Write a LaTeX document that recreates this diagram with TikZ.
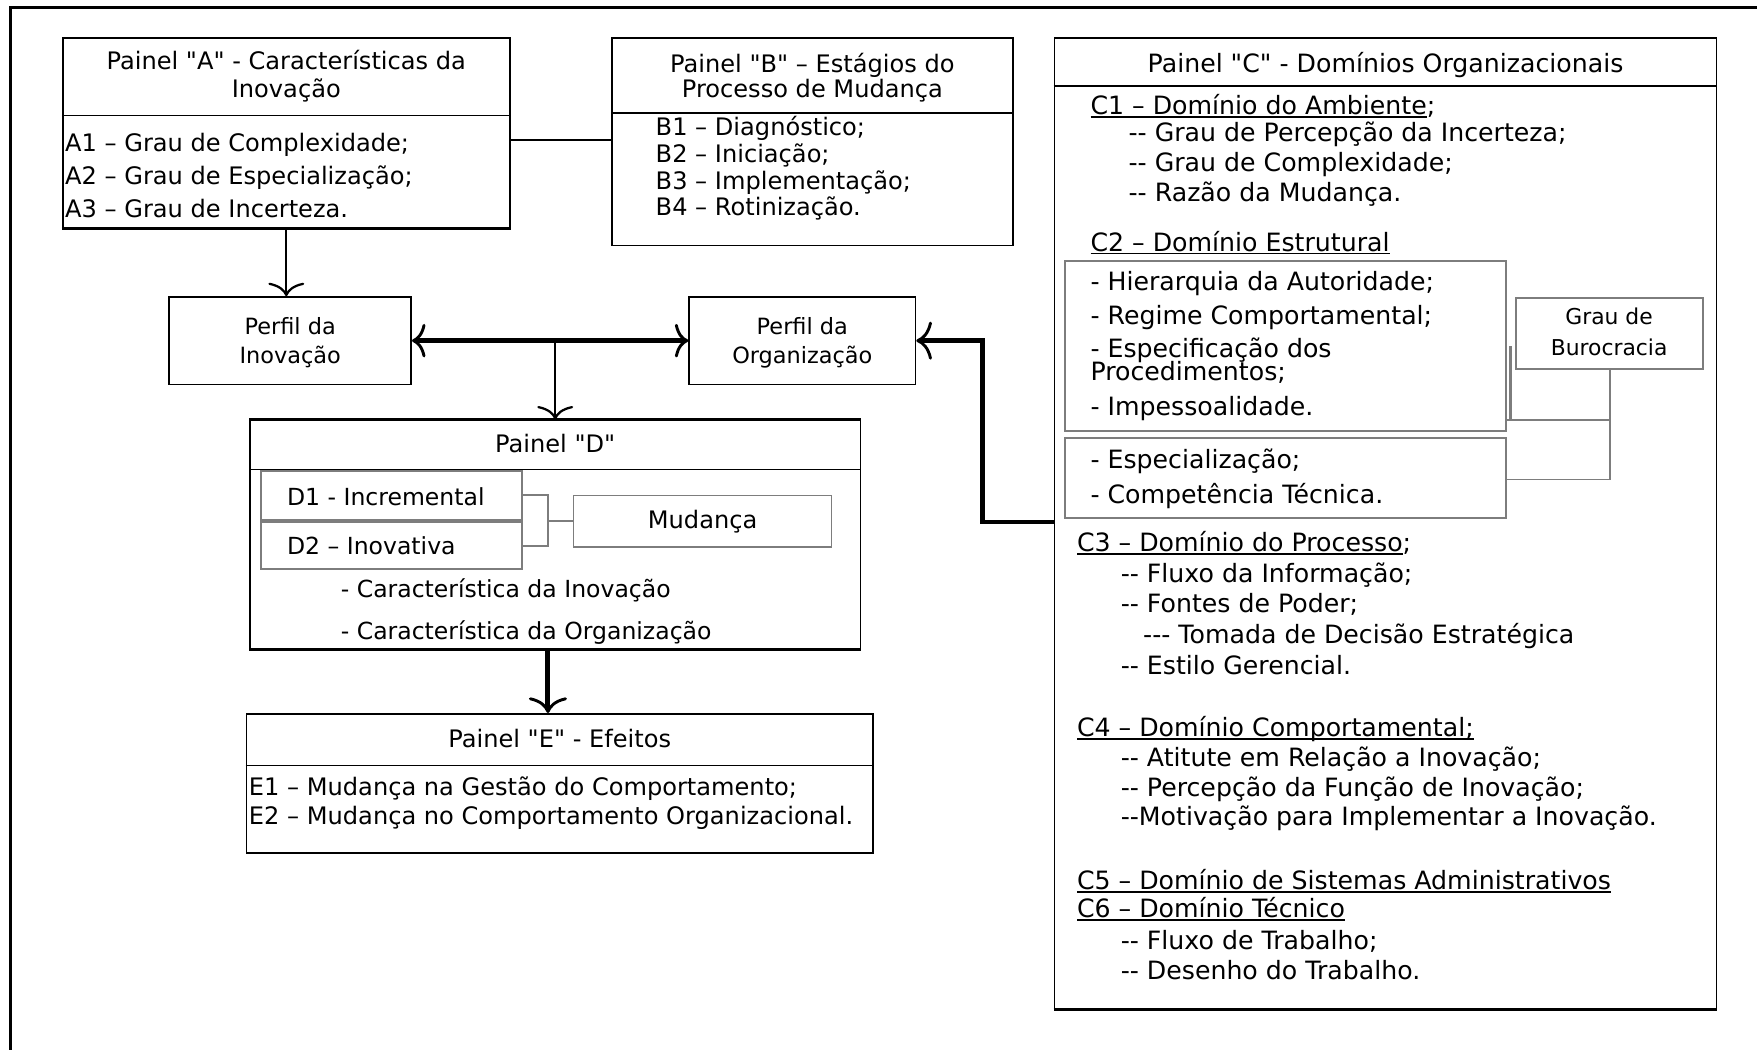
\documentclass[tikz,border=0pt]{standalone}
\usepackage{fontspec}
\newfontfamily\dv{DejaVu Sans}
\usetikzlibrary{arrows.meta,fit}
\definecolor{midgray}{RGB}{125,125,125}
\newsavebox\ulbox
\newcommand\undl[1]{\sbox\ulbox{#1}\rlap{\rule[-3pt]{\wd\ulbox}{1.6pt}}\usebox\ulbox}
\newcommand\dd{-\kern0pt-}
\newcommand\ddd{-\kern0pt-\kern0pt-}
\newcommand\fA{\dv\fontsize{21.5}{25}\selectfont}
\newcommand\fC{\dv\fontsize{22.5}{26}\selectfont}
\newcommand\fD{\dv\fontsize{21}{25}\selectfont}
\newcommand\fP{\dv\fontsize{20}{26}\selectfont}
\newcommand\fG{\dv\fontsize{19.5}{28}\selectfont}
\begin{document}
\begin{tikzpicture}[x=1pt,y=-1pt, font=\fA,
  box/.style={draw, line width=1.4pt, inner sep=0pt},
  gbox/.style={draw=midgray, line width=1.8pt, inner sep=0pt},
  gline/.style={draw=midgray, line width=1.5pt},
  t/.style={inner sep=0pt, anchor=base west, font=\fA},
  tc/.style={inner sep=0pt, anchor=base, font=\fA},
  c/.style={inner sep=0pt, anchor=base west, font=\fC},
  mid/.style={inner sep=0pt, align=center},
  tipS/.style={-{Computer Modern Rightarrow[length=12pt,width=32pt,line width=2pt]}},
  tipB/.style={-{Computer Modern Rightarrow[length=14pt,width=34pt,line width=2.6pt]}},
  tipD/.style={{Computer Modern Rightarrow[length=12pt,width=30pt,line width=2.6pt]}-{Computer Modern Rightarrow[length=12pt,width=30pt,line width=2.6pt]}}]
\useasboundingbox (0,0) rectangle (1568,937);

% outer frame (top and left edges)
\coordinate (fbl) at (9,940);
\coordinate (ftl) at (9,7);
\coordinate (ftr) at (1570,7);
\draw[line width=2.6pt] (fbl) -- (ftl) -- (ftr);

% helper ordinates
\coordinate (abY) at (0,125);
\coordinate (hA) at (0,103);
\coordinate (hB) at (0,101);
\coordinate (hC) at (0,77);
\coordinate (hD) at (0,419);
\coordinate (hE) at (0,683);

% ---------- Panel A ----------
\node[box, fit={(56,34) (455,203)}] (A) {};
\draw[line width=1.4pt] (A.west |- hA) -- (A.east |- hA);
\draw[line width=2.6pt] (A.south west) -- (A.south east);
\node[tc] (at1) at (255.5,62) {Painel "A" - Características da};
\node[tc] (at2) at (255.5,87) {Inovação};
\node[t] (a1) at (58,135) {A1 – Grau de Complexidade;};
\node[t] (a2) at (58,165) {A2 – Grau de Especialização;};
\node[t] (a3) at (58,194) {A3 – Grau de Incerteza.};

% ---------- Panel B ----------
\node[box, fit={(546,34) (904,219)}] (B) {};
\draw[line width=1.4pt] (B.west |- hB) -- (B.east |- hB);
\node[tc] (bt1) at (725,65) {Painel "B" – Estágios do};
\node[tc] (bt2) at (725,87) {Processo de Mudança};
\node[t] (b1) at (585,121) {B1 – Diagnóstico;};
\node[t] (b2) at (585,145) {B2 – Iniciação;};
\node[t] (b3) at (585,169) {B3 – Implementação;};
\node[t] (b4) at (585,192) {B4 – Rotinização.};

\draw[line width=2.4pt] (A.east |- abY) -- (B.west |- abY);

% ---------- Panel C ----------
\node[box, fit={(941,34) (1532,900)}] (C) {};
\draw[line width=1.4pt] (C.west |- hC) -- (C.east |- hC);
\draw[line width=3pt] (C.south west) -- (C.south east);
\node[tc, font=\fC] (ct) at (1236.5,65) {Painel "C" - Domínios Organizacionais};
\node[c] (c1) at (973,102) {\undl{C1 – Domínio do Ambiente};};
\node[c] (c11) at (1007,126) {\dd{} Grau de Percepção da Incerteza;};
\node[c] (c12) at (1007,153) {\dd{} Grau de Complexidade;};
\node[c] (c13) at (1007,180) {\dd{} Razão da Mudança.};
\node[c] (c2) at (973,224) {\undl{C2 – Domínio Estrutural}};

\node[gbox, fit={(950,233) (1344,385)}] (CB1) {};
\node[c] (c21) at (973,259) {- Hierarquia da Autoridade;};
\node[c] (c22) at (973,290) {- Regime Comportamental;};
\node[c] (c23) at (973,319) {- Especificação dos};
\node[c] (c23b) at (973,340) {Procedimentos;};
\node[c] (c24) at (973,371) {- Impessoalidade.};
\node[gbox, fit={(950,391) (1344,462)}] (CB2) {};
\node[c] (c25) at (973,418) {- Especialização;};
\node[c] (c26) at (973,449) {- Competência Técnica.};

\node[gbox, line width=1.5pt, fit={(1353,266) (1520,329)}] (G) {};
\node[mid, font=\fG] (gt) at (1436,296) {Grau de\\Burocracia};
\coordinate (y309) at (0,309);
\coordinate (y375) at (0,375);
\coordinate (y428) at (0,428);
\coordinate (gx) at ([xshift=3pt]CB1.east);
\draw[gline] (G.south) -- (G.south |- y428) -- (CB2.east |- y428);
\draw[gline] (G.south |- y375) -- (CB1.east |- y375);
\draw[draw=midgray, line width=3pt] (gx |- y309) -- (gx |- y375);

\node[c] (c3) at (961,492) {\undl{C3 – Domínio do Processo};};
\node[c] (c31) at (1000,520) {\dd{} Fluxo da Informação;};
\node[c] (c32) at (1000,547) {\dd{} Fontes de Poder;};
\node[c] (c33) at (1020,574) {\ddd{} Tomada de Decisão Estratégica};
\node[c] (c34) at (1000,602) {\dd{} Estilo Gerencial.};
\node[c] (c4) at (961,657) {\undl{C4 – Domínio Comportamental;}};
\node[c] (c41) at (1000,684) {\dd{} Atitute em Relação a Inovação;};
\node[c] (c42) at (1000,711) {\dd{} Percepção da Função de Inovação;};
\node[c] (c43) at (1000,737) {\dd{}Motivação para Implementar a Inovação.};
\node[c] (c5) at (961,794) {\undl{C5 – Domínio de Sistemas Administrativos}};
\node[c] (c6) at (961,819) {\undl{C6 – Domínio Técnico}};
\node[c] (c61) at (1000,847) {\dd{} Fluxo de Trabalho;};
\node[c] (c62) at (1000,874) {\dd{} Desenho do Trabalho.};

% ---------- profiles ----------
\node[box, fit={(151,265) (367,343)}] (PI) {};
\node[mid, font=\fP] (pit) at (259,306) {Perfil da\\Inovação};
\node[box, fit={(615,265) (817,343)}] (PO) {};
\node[mid, font=\fP] (pot) at (716,306) {Perfil da\\Organização};

% ---------- Panel D ----------
\node[box, fit={(223,375) (768,579)}] (D) {};
\draw[line width=1.4pt] (D.west |- hD) -- (D.east |- hD);
\draw[line width=2.8pt] (D.north west) -- (D.north east);
\draw[line width=2.6pt] (D.south west) -- (D.south east);
\node[tc] (dt) at (495.5,404) {Painel "D"};
\node[gbox, line width=2pt, fit={(233,420) (466,464)}] (D1) {};
\node[gbox, line width=2pt, fit={(233,466) (466,508)}] (D2) {};
\node[t, font=\fD] (d1) at (256,451) {D1 - Incremental};
\node[t, font=\fD] (d2) at (256,495) {D2 – Inovativa};
\node[gbox, line width=1.3pt, fit={(512,442) (742,488)}] (M) {};
\node[tc] (mt) at (627,472) {Mudança};
\coordinate (dbx) at (489,0);
\draw[gline] (D1.east) -- (dbx |- D1.east) -- (dbx |- D2.east) -- (D2.east);
\draw[gline] (dbx |- M.west) -- (M.west);
\node[t, font=\fD] (dc1) at (304,533) {- Característica da Inovação};
\node[t, font=\fD] (dc2) at (304,571) {- Característica da Organização};

% ---------- Panel E ----------
\node[box, fit={(220,637) (779,761)}] (E) {};
\draw[line width=1.4pt] (E.west |- hE) -- (E.east |- hE);
\node[tc] (et) at (499.5,667) {Painel "E" - Efeitos};
\node[t] (e1) at (222,710) {E1 – Mudança na Gestão do Comportamento;};
\node[t] (e2) at (222,736) {E2 – Mudança no Comportamento Organizacional.};

% ---------- connectors ----------
\draw[line width=2pt, tipS] (A.south) -- (A.south |- PI.north);
\draw[line width=4.5pt, tipD] (PI.east) -- (PO.west);
\draw[line width=1.6pt, tipS] (D.north |- PI.east) -- (D.north);
\coordinate (cj) at (877,466);
\draw[line width=4pt, tipB] (C.west |- cj) -- (cj) |- (PO.east);
\coordinate (de) at (489,0);
\draw[line width=4.5pt, tipB] (de |- D.south) -- (de |- E.north);
\end{tikzpicture}
\end{document}
